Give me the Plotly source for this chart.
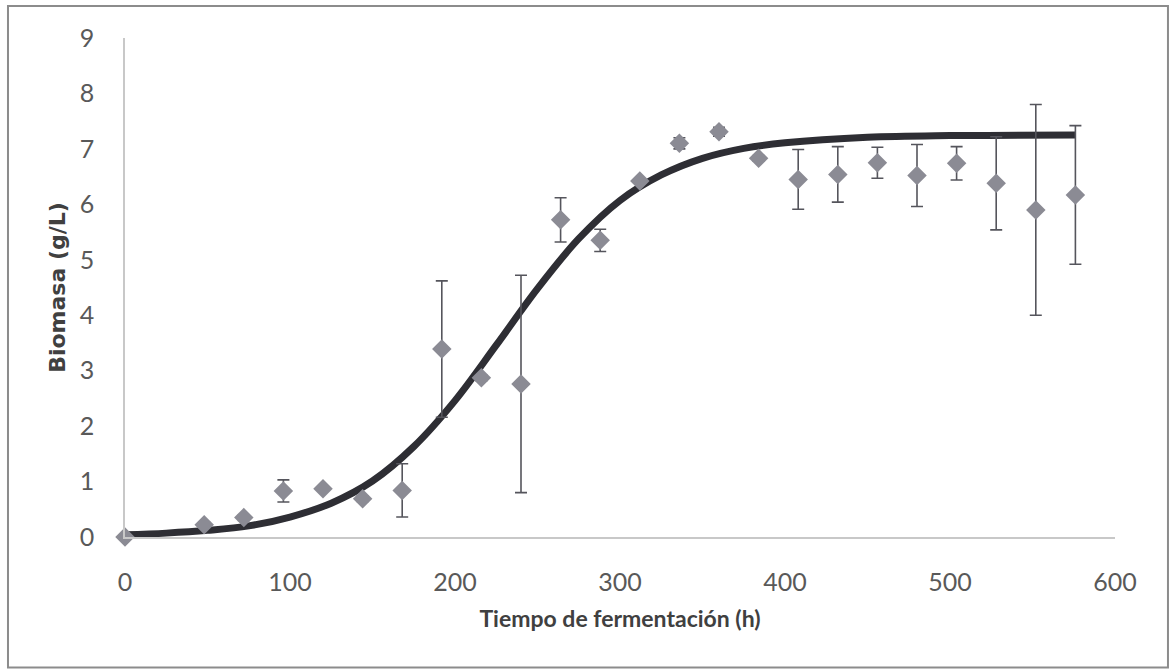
import plotly.graph_objects as go

# Measured biomass (mean and standard deviation) over the fermentation
tiempo = [0, 48, 72, 96, 120, 144, 168, 192, 216, 240, 264, 288,
          312, 336, 360, 384, 408, 432, 456, 480, 504, 528, 552, 576]
biomasa = [0.0, 0.22, 0.35, 0.83, 0.87, 0.69, 0.84, 3.39, 2.87, 2.76, 5.72, 5.35,
           6.42, 7.10, 7.31, 6.83, 6.45, 6.54, 6.75, 6.52, 6.74, 6.38, 5.90, 6.17]
desv = [0.0, 0.05, 0.05, 0.20, 0.04, 0.05, 0.48, 1.23, 0.05, 1.96, 0.40, 0.20,
        0.04, 0.10, 0.08, 0.05, 0.54, 0.50, 0.28, 0.56, 0.30, 0.84, 1.90, 1.25]

# Fitted growth model curve
tiempo_modelo = [0, 25, 50, 75, 100, 125, 150, 175, 200, 225, 250, 275,
                 300, 325, 350, 375, 400, 450, 500, 576]
biomasa_modelo = [0.04, 0.07, 0.12, 0.20, 0.36, 0.61, 1.01, 1.63, 2.46, 3.46, 4.48, 5.38,
                  6.07, 6.53, 6.83, 7.01, 7.11, 7.21, 7.24, 7.25]

x_ticks = [0, 100, 200, 300, 400, 500, 600]
y_ticks = [0, 1, 2, 3, 4, 5, 6, 7, 8, 9]

fig = go.Figure()

fig.add_trace(go.Scatter(
    x=tiempo_modelo, y=biomasa_modelo, mode="lines",
    line=dict(color="#2e2e34", width=7, shape="spline"),
    showlegend=False, hoverinfo="skip", cliponaxis=False,
))

fig.add_trace(go.Scatter(
    x=tiempo, y=biomasa, mode="markers",
    marker=dict(symbol="diamond", size=15, color="#8b8b94",
                line=dict(width=0)),
    error_y=dict(type="data", array=desv, visible=True,
                 color="#55555c", thickness=1.6, width=6),
    showlegend=False, cliponaxis=False,
))

axis_font = dict(family="Lato, 'Open Sans', sans-serif", size=25, color="#595959")
xtitle_font = dict(family="Lato, 'Open Sans', sans-serif", size=23, color="#404040")
ytitle_font = dict(family="'DejaVu Sans', sans-serif", size=22, color="#404040")

fig.update_layout(
    width=1171, height=672,
    margin=dict(l=125, r=56, t=38, b=134.5),
    paper_bgcolor="white", plot_bgcolor="white",
    xaxis=dict(
        range=[0, 600], tickvals=x_ticks, ticktext=[str(v) for v in x_ticks],
        showgrid=False, zeroline=False, showline=True,
        linecolor="#c8c8c8", linewidth=1.5, ticks="",
        tickfont=axis_font, ticklabelstandoff=22,
        title=dict(text="<b>Tiempo de fermentación (h)</b>", font=xtitle_font, standoff=16),
    ),
    yaxis=dict(
        range=[0, 9], tickvals=y_ticks, ticktext=[str(v) for v in y_ticks],
        showgrid=False, zeroline=False, showline=True,
        linecolor="#c8c8c8", linewidth=1.5, ticks="",
        tickfont=axis_font, ticklabelstandoff=24,
        title=dict(text="<b>Biomasa (g/L)</b>", font=ytitle_font, standoff=8),
    ),
)

# Outer chart frame
fig.add_shape(type="rect", xref="paper", yref="paper",
              x0=-0.1182, x1=1.0535, y0=-0.2613, y1=1.064,
              line=dict(color="#8c8c8c", width=2), fillcolor="rgba(0,0,0,0)",
              layer="below")

fig.write_html("out.html")
